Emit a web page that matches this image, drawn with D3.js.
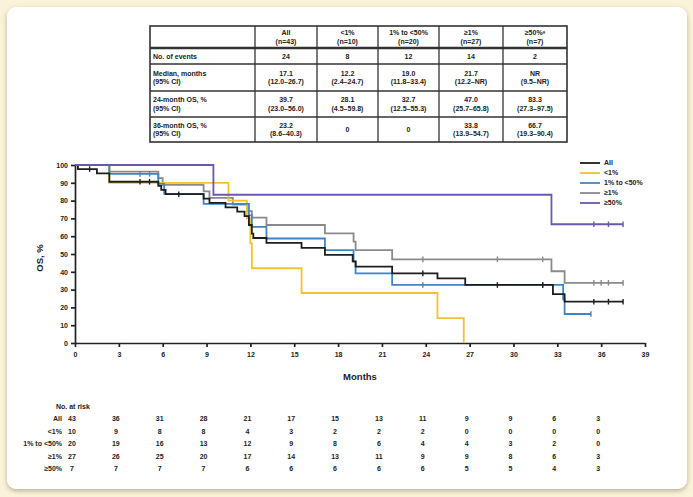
<!DOCTYPE html>
<html>
<head>
<meta charset="utf-8">
<script src="https://cdn.jsdelivr.net/npm/d3@7"></script>
<style>
  html, body { margin: 0; padding: 0; background: #fbf3d9; }
  svg { display: block; font-family: "Liberation Sans", Arial, sans-serif; }
</style>
</head>
<body>
<svg id="chart" width="693" height="497"></svg>
<script>
// ---------- DATA ----------
const seriesNames = ["All", "<1%", "1% to <50%", "≥1%", "≥50%"];

// Kaplan-Meier steps [month, OS %]
const stepsAll = [[0,100],[0.2,97.7],[1.5,95.3],[2.35,90.6],[5.7,88.3],[5.9,86.0],[6.2,83.6],[8.8,81.1],[9.2,78.7],[10.3,76.2],[11.1,73.8],[11.6,71.3],[11.9,66.3],[12.1,61.4],[12.2,59.0],[13.1,56.2],[15.5,53.4],[17.1,49.5],[19.0,45.9],[19.2,42.9],[21.7,39.1],[24.8,36.3],[26.7,32.6],[32.7,27.5],[33.5,23.2],[37.5,23.2]];
const stepsLt1 = [[0,100],[2.35,90],[10.5,80],[11.76,70],[12.0,56],[12.1,42],[15.5,28.1],[24.8,14.0],[26.6,0]];
const stepsMid = [[0,100],[2.35,95],[5.7,89.4],[6.1,83.8],[8.8,78.2],[11.9,71.7],[12.1,65.2],[13.1,58.7],[17.1,52.2],[19.06,45.7],[19.2,39.1],[21.7,32.6],[33.4,24.5],[33.5,16.3],[35.3,16.3]];
const stepsGe1 = [[0,100],[2.35,96.3],[5.7,92.6],[6.0,88.9],[8.8,85.2],[9.2,81.5],[10.8,77.8],[11.8,74.1],[12.1,70.4],[13.1,66.3],[17.1,61.6],[19.06,56.9],[19.2,52.2],[21.7,47.0],[32.6,40.3],[33.5,33.8],[37.5,33.8]];
const stepsGe50 = [[0,100],[9.47,83.3],[32.6,66.7],[37.5,66.7]];

// censor marks [month, OS %]
const censAll = [[1.0,97.7],[4.45,90.6],[5.1,90.6],[7.1,83.6],[23.8,39.1],[28.9,32.6],[32.0,32.6],[35.5,23.2],[36.5,23.2],[37.5,23.2]];
const censLt1 = [];
const censMid = [[4.45,95],[5.1,95],[23.8,32.6],[32.0,32.6],[35.3,16.3]];
const censGe1 = [[23.8,47.0],[28.9,47.0],[32.0,47.0],[35.5,33.8],[36.0,33.8],[36.5,33.8],[37.5,33.8]];
const censGe50 = [[35.5,66.7],[36.5,66.7],[37.5,66.7]];

// axis ticks
const xTicks = [0,3,6,9,12,15,18,21,24,27,30,33,36,39];
const yTicks = [0,10,20,30,40,50,60,70,80,90,100];

// number at risk
const riskTimes = [0,3,6,9,12,15,18,21,24,27,30,33,36];
const riskAll  = [43,36,31,28,21,17,15,13,11,9,9,6,3];
const riskLt1  = [10,9,8,8,4,3,2,2,2,0,0,0,0];
const riskMid  = [20,19,16,13,12,9,8,6,4,4,3,2,0];
const riskGe1  = [27,26,25,20,17,14,13,11,9,9,8,6,3];
const riskGe50 = [7,7,7,7,6,6,6,6,6,5,5,4,3];

// summary table
const tableGroups = ["All", "<1%", "1% to <50%", "≥1%", "≥50%ᵃ"];
const tableN = [43, 10, 20, 27, 7];
const rowLabels = [["No. of events"], ["Median, months", "(95% CI)"], ["24-month OS, %", "(95% CI)"], ["36-month OS, %", "(95% CI)"]];
const rowEvents = [["24"], ["8"], ["12"], ["14"], ["2"]];
const rowMedian = [["17.1","(12.0–26.7)"], ["12.2","(2.4–24.7)"], ["19.0","(11.8–33.4)"], ["21.7","(12.2–NR)"], ["NR","(9.5–NR)"]];
const row24 = [["39.7","(23.0–56.0)"], ["28.1","(4.5–59.8)"], ["32.7","(12.5–55.3)"], ["47.0","(25.7–65.8)"], ["83.3","(27.3–97.5)"]];
const row36 = [["23.2","(8.6–40.3)"], ["0"], ["0"], ["33.8","(13.9–54.7)"], ["66.7","(19.3–90.4)"]];

// ---------- STYLE ----------
const colors = ["#1e1e1e", "#f3c232", "#3f86c8", "#8a8a8a", "#6b58b4"];
const svg = d3.select("#chart");

// card with shadow
const defs = svg.append("defs");
const f = defs.append("filter").attr("id", "sh").attr("x", "-5%").attr("y", "-5%").attr("width", "110%").attr("height", "112%");
f.append("feDropShadow").attr("dx", 0).attr("dy", 2).attr("stdDeviation", 2.5).attr("flood-color", "#8a8270").attr("flood-opacity", 0.6);
svg.append("rect").attr("x", 7).attr("y", 7).attr("width", 680).attr("height", 482).attr("rx", 9)
  .attr("fill", "#ffffff").attr("filter", "url(#sh)");

// ---------- SUMMARY TABLE ----------
const colX = [150, 255, 317, 378, 439, 503, 567];
const rowY = [26, 48, 64, 91, 117, 142];
const tg = svg.append("g").attr("font-size", 7).attr("font-weight", "bold").attr("fill", "#222");
tg.append("rect").attr("x", colX[0]).attr("y", rowY[0]).attr("width", colX[6]-colX[0]).attr("height", rowY[5]-rowY[0])
  .attr("fill", "none").attr("stroke", "#333").attr("stroke-width", 1.6);
colX.slice(1, 6).forEach(x => tg.append("line").attr("x1", x).attr("x2", x).attr("y1", rowY[0]).attr("y2", rowY[5]).attr("stroke", "#333").attr("stroke-width", 1.3));
rowY.slice(1, 5).forEach((y, i) => tg.append("line").attr("x1", colX[0]).attr("x2", colX[6]).attr("y1", y).attr("y2", y)
  .attr("stroke", "#333").attr("stroke-width", i === 0 ? 2.4 : 1.3));

function cellText(lines, cx, y0, y1, anchor) {
  const lh = 8.4;
  const mid = (y0 + y1) / 2 - (lines.length - 1) * lh / 2 + 2.5;
  const t = tg.append("text").attr("text-anchor", anchor);
  lines.forEach((s, i) => t.append("tspan").attr("x", cx).attr("y", mid + i * lh).text(s));
}
tableGroups.forEach((g, i) => cellText([g, "(n=" + tableN[i] + ")"], (colX[i+1] + colX[i+2]) / 2, rowY[0], rowY[1], "middle"));
rowLabels.forEach((l, r) => cellText(l, colX[0] + 3, rowY[r+1], rowY[r+2], "start"));
[rowEvents, rowMedian, row24, row36].forEach((row, r) => {
  row.forEach((c, i) => cellText(c, (colX[i+1] + colX[i+2]) / 2, rowY[r+1], rowY[r+2], "middle"));
});

// ---------- KM PLOT ----------
const x = d3.scaleLinear().domain([0, 39]).range([75, 645]);
const y = d3.scaleLinear().domain([0, 100]).range([343, 165]);

const xAxis = svg.append("g").attr("transform", "translate(0,343)")
  .call(d3.axisBottom(x).tickValues(xTicks).tickSize(4).tickSizeOuter(0));
const yAxis = svg.append("g").attr("transform", "translate(75,0)")
  .call(d3.axisLeft(y).tickValues(yTicks).tickSize(4).tickSizeOuter(0));
[xAxis, yAxis].forEach(a => {
  a.selectAll("path, line").attr("stroke", "#222").attr("stroke-width", 1.7);
  a.selectAll("text").attr("font-size", 7).attr("font-weight", "bold").attr("fill", "#222")
    .attr("font-family", "Liberation Sans, Arial, sans-serif");
});
xAxis.selectAll("text").attr("dy", "0.95em");

svg.append("text").attr("x", 360).attr("y", 380).attr("text-anchor", "middle")
  .attr("font-size", 9.5).attr("font-weight", "bold").attr("fill", "#222").text("Months");
svg.append("text").attr("transform", "translate(43,258) rotate(-90)").attr("text-anchor", "middle")
  .attr("font-size", 9.5).attr("font-weight", "bold").attr("fill", "#222").text("OS, %");

const steps = [stepsAll, stepsLt1, stepsMid, stepsGe1, stepsGe50];
const cens = [censAll, censLt1, censMid, censGe1, censGe50];
const line = d3.line().x(d => x(d[0])).y(d => y(d[1])).curve(d3.curveStepAfter);
const drawOrder = [3, 1, 2, 0, 4];
drawOrder.forEach(i => {
  svg.append("path").datum(steps[i]).attr("d", line).attr("fill", "none")
    .attr("stroke", colors[i]).attr("stroke-width", 1.8).attr("stroke-linejoin", "miter");
  svg.append("g").selectAll("line").data(cens[i]).join("line")
    .attr("x1", d => x(d[0])).attr("x2", d => x(d[0]))
    .attr("y1", d => y(d[1]) - 2.8).attr("y2", d => y(d[1]) + 2.8)
    .attr("stroke", colors[i]).attr("stroke-width", 1.4);
});

// legend
const lg = svg.append("g");
seriesNames.forEach((n, i) => {
  const yy = 163 + i * 10;
  lg.append("line").attr("x1", 580).attr("x2", 600).attr("y1", yy).attr("y2", yy).attr("stroke", colors[i]).attr("stroke-width", 1.8);
  lg.append("text").attr("x", 604).attr("y", yy + 2.4).attr("font-size", 7).attr("font-weight", "bold").attr("fill", "#222").text(n);
});

// ---------- NUMBER AT RISK ----------
const risks = [riskAll, riskLt1, riskMid, riskGe1, riskGe50];
const rg = svg.append("g").attr("font-size", 7).attr("font-weight", "bold").attr("fill", "#222");
rg.append("text").attr("x", 56).attr("y", 409).text("No. at risk");
risks.forEach((r, i) => {
  const yy = 421 + i * 12.6;
  rg.append("text").attr("x", 62).attr("y", yy).attr("text-anchor", "end").text(seriesNames[i]);
  rg.selectAll(null).data(r).join("text")
    .attr("x", (d, j) => x(riskTimes[j]) - 3).attr("y", yy).attr("text-anchor", "middle").text(d => d);
});
</script>
</body>
</html>
